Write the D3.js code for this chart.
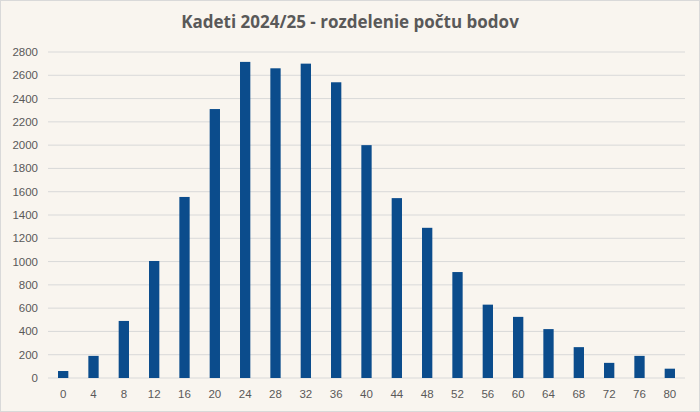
<!DOCTYPE html>
<html><head><meta charset="utf-8">
<script src="https://cdn.jsdelivr.net/npm/d3@7"></script>
<style>body{margin:0;background:#fff}</style></head>
<body><svg id="c" width="700" height="412"></svg>
<script>
const categories=[0,4,8,12,16,20,24,28,32,36,40,44,48,52,56,60,64,68,72,76,80];
const counts=[60,190,490,1005,1555,2310,2715,2660,2700,2540,2000,1545,1290,910,630,525,420,265,130,190,80];
const yTicks=d3.range(0,2801,200);
const title="Kadeti 2024/25 - rozdelenie počtu bodov";

const svg=d3.select("#c");
svg.append("rect").attr("x",0.5).attr("y",0.5).attr("width",699).attr("height",411)
  .attr("fill","#f9f5ef").attr("stroke","#d9d9d9");
const m={l:48,r:15,t:52,b:34};
const x=d3.scaleBand().domain(categories).range([m.l,700-m.r]).paddingInner(0.66).paddingOuter(0.33);
const y=d3.scaleLinear().domain([0,2800]).range([412-m.b,m.t]);
svg.append("g").selectAll("line").data(yTicks).join("line")
  .attr("x1",m.l).attr("x2",700-m.r).attr("y1",d=>y(d)).attr("y2",d=>y(d))
  .attr("stroke","#d9d9d9").attr("stroke-width",1);
svg.append("g").selectAll("text").data(yTicks).join("text")
  .attr("x",m.l-10).attr("y",d=>y(d)+4).attr("text-anchor","end")
  .attr("font-family","Liberation Sans, Arial").attr("font-size",11.5).attr("fill","#595959").text(d=>d);
svg.append("g").selectAll("rect").data(categories).join("rect")
  .attr("x",d=>x(d)).attr("width",x.bandwidth())
  .attr("y",(d,i)=>y(counts[i])).attr("height",(d,i)=>y(0)-y(counts[i])).attr("fill","#0b4c8c");
svg.append("g").selectAll("text").data(categories).join("text")
  .attr("x",d=>x(d)+x.bandwidth()/2).attr("y",y(0)+20).attr("text-anchor","middle")
  .attr("font-family","Liberation Sans, Arial").attr("font-size",11.5).attr("fill","#595959").text(d=>d);
svg.append("text").attr("x",350).attr("y",28).attr("text-anchor","middle")
  .attr("font-family","Open Sans, Liberation Sans").attr("font-weight","bold").attr("font-size",17)
  .attr("fill","#595959").text(title);
</script></body></html>
